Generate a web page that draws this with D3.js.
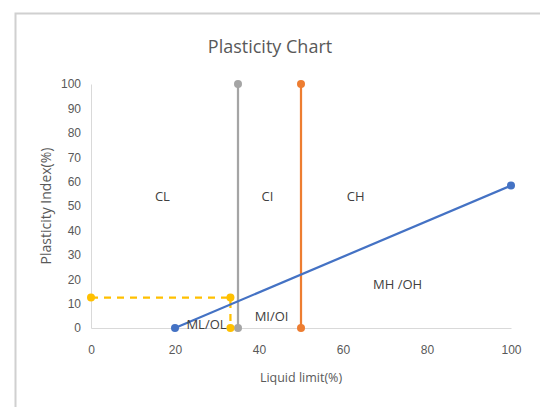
<!DOCTYPE html>
<html>
<head>
<meta charset="utf-8">
<script src="https://cdn.jsdelivr.net/npm/d3@7"></script>
<style>
  body { margin: 0; background: #fff; }
  svg { display: block; font-family: "Open Sans", "Noto Sans", sans-serif; }
</style>
</head>
<body>
<div id="chart"></div>
<script>
// series data (liquid limit, plasticity index)
const aLine = [[20, 0], [100, 58.4]]
const grayLine = [[35, 0], [35, 100]]
const orangeLine = [[50, 0], [50, 100]]
const yellowLine = [[0, 12.5], [33.2, 12.5], [33.2, 0]]

const xTicks = [0, 20, 40, 60, 80, 100]
const yTicks = [0, 10, 20, 30, 40, 50, 60, 70, 80, 90, 100]

const zoneLabels = [
  { text: "CL", x: 17, y: 52 },
  { text: "CI", x: 42, y: 52 },
  { text: "CH", x: 63, y: 52 },
  { text: "MH /OH", x: 73, y: 16 },
  { text: "ML/OL", x: 27.5, y: -0.5 },
  { text: "MI/OI", x: 43, y: 3 }
]

const width = 540
const height = 407
const marginLeft = 91
const marginRight = 29
const marginTop = 84
const marginBottom = 79

const svg = d3.select("#chart").append("svg")
  .attr("width", width)
  .attr("height", height)

// outer chart frame
svg.append("path")
  .attr("d", `M15.5,${height} V13.5 H${width}`)
  .attr("fill", "none")
  .attr("stroke", "#d0d0d0")
  .attr("stroke-width", 2)

const x = d3.scaleLinear([0, 100], [marginLeft, width - marginRight])
const y = d3.scaleLinear([0, 100], [height - marginBottom, marginTop])

// y axis
svg.append("g")
  .attr("transform", `translate(${marginLeft},0)`)
  .call(d3.axisLeft(y).tickValues(yTicks).tickSize(0).tickPadding(10))
  .call(g => g.select(".domain").attr("stroke", "#d9d9d9"))
  .call(g => g.selectAll("text").attr("fill", "#595959").style("font-size", "12px"))

// x axis
svg.append("g")
  .attr("transform", `translate(0,${height - marginBottom})`)
  .call(d3.axisBottom(x).tickValues(xTicks).tickSize(0).tickPadding(17))
  .call(g => g.select(".domain").attr("stroke", "#d9d9d9"))
  .call(g => g.selectAll("text").attr("fill", "#595959").style("font-size", "12px"))

// titles
svg.append("text")
  .attr("x", 270).attr("y", 53)
  .attr("text-anchor", "middle")
  .attr("fill", "#595959")
  .style("font-size", "18px")
  .text("Plasticity Chart")

svg.append("text")
  .attr("x", x(50)).attr("y", 382)
  .attr("text-anchor", "middle")
  .attr("fill", "#595959")
  .style("font-size", "12.5px")
  .text("Liquid limit(%)")

svg.append("text")
  .attr("transform", `translate(51,${y(50)}) rotate(-90)`)
  .attr("text-anchor", "middle")
  .attr("fill", "#595959")
  .style("font-size", "14px")
  .text("Plasticity Index(%)")

const line = d3.line().x(d => x(d[0])).y(d => y(d[1]))

const series = [
  { data: grayLine, color: "#a5a5a5", dash: null },
  { data: orangeLine, color: "#ed7d31", dash: null },
  { data: yellowLine, color: "#ffc000", dash: "7,6" },
  { data: aLine, color: "#4472c4", dash: null }
]

series.forEach(s => {
  svg.append("path")
    .attr("d", line(s.data))
    .attr("fill", "none")
    .attr("stroke", s.color)
    .attr("stroke-width", 2.25)
    .attr("stroke-dasharray", s.dash)
  svg.append("g")
    .selectAll("circle")
    .data(s.data)
    .join("circle")
    .attr("cx", d => x(d[0]))
    .attr("cy", d => y(d[1]))
    .attr("r", 4)
    .attr("fill", s.color)
})

// zone labels
svg.append("g")
  .selectAll("text")
  .data(zoneLabels)
  .join("text")
  .attr("x", d => x(d.x))
  .attr("y", d => y(d.y))
  .attr("text-anchor", "middle")
  .attr("fill", "#404040")
  .style("font-size", "13px")
  .text(d => d.text)
</script>
</body>
</html>
